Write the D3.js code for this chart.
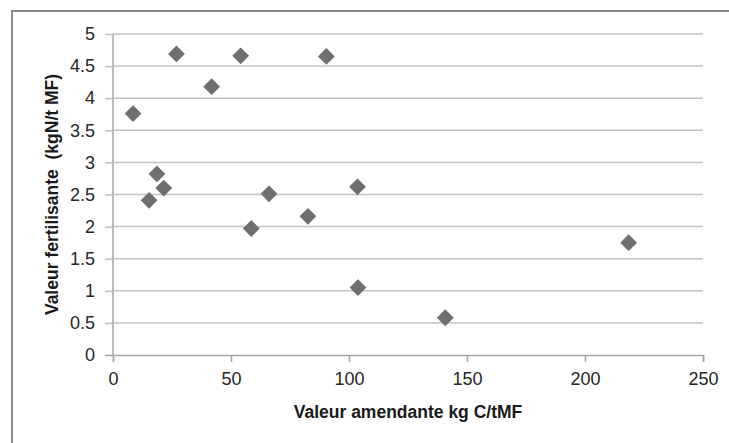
<!DOCTYPE html>
<html>
<head>
<meta charset="utf-8">
<script src="https://cdn.jsdelivr.net/npm/d3@7"></script>
<style>
  body { margin: 0; background: #fff; }
  .tick text { font-family: "Liberation Sans", Arial, sans-serif; font-size: 18px; fill: #262626; }
  .axis-text { font-family: "Liberation Sans", Arial, sans-serif; font-size: 17.5px; font-weight: bold; fill: #1a1a1a; }
</style>
</head>
<body>
<div id="scatter"></div>
<script>
// data
var amendante = [8.5, 15.3, 18.6, 21.5, 26.9, 41.8, 54.1, 58.6, 66.1, 82.6, 90.4, 103.6, 103.8, 140.8, 218.5];
var fertilisante = [3.76, 2.41, 2.82, 2.60, 4.69, 4.18, 4.66, 1.97, 2.51, 2.16, 4.65, 2.62, 1.05, 0.58, 1.75];
var xTicks = [0, 50, 100, 150, 200, 250];
var yTicks = [0, 0.5, 1, 1.5, 2, 2.5, 3, 3.5, 4, 4.5, 5];

var svgWidth = 729;
var svgHeight = 443;
var margin = {top: 34, right: 26, bottom: 88, left: 113};
var width = svgWidth - margin.left - margin.right;
var height = svgHeight - margin.top - margin.bottom;

var root = d3.select('#scatter')
  .append('svg')
  .attr('width', svgWidth)
  .attr('height', svgHeight);

// outer chart frame (only left and top are in view)
root.append('rect')
  .attr('x', 12)
  .attr('y', 11)
  .attr('width', 740)
  .attr('height', 460)
  .attr('fill', 'none')
  .attr('stroke', '#8a8a8a')
  .attr('stroke-width', 2);

var chart = root.append('g')
  .attr('transform', 'translate(' + margin.left + ',' + margin.top + ')');

var xScale = d3.scaleLinear().domain([0, 250]).range([0, width]);
var yScale = d3.scaleLinear().domain([0, 5]).range([height, 0]);

// gridlines
chart.append('g')
  .selectAll('line')
  .data(yTicks.filter(function(d) { return d > 0; }))
  .enter()
  .append('line')
  .attr('x1', 0)
  .attr('x2', width)
  .attr('y1', function(d) { return yScale(d); })
  .attr('y2', function(d) { return yScale(d); })
  .attr('stroke', '#c3c3c3')
  .attr('stroke-width', 1.5);

var leftAxis = d3.axisLeft(yScale).tickValues(yTicks).tickSize(8).tickPadding(10)
  .tickFormat(function(d) { return d; });
var bottomAxis = d3.axisBottom(xScale).tickValues(xTicks).tickSize(7).tickPadding(10)
  .tickFormat(function(d) { return d; });

var gx = chart.append('g')
  .attr('transform', 'translate(0,' + height + ')')
  .call(bottomAxis);
var gy = chart.append('g')
  .call(leftAxis);

[gx, gy].forEach(function(g) {
  g.select('.domain').attr('stroke', '#a6a6a6').attr('stroke-width', 1.5);
  g.selectAll('.tick line').attr('stroke', '#a6a6a6').attr('stroke-width', 1.5);
});
gy.select('.domain').attr('d', 'M0,' + height + 'V0');
gy.selectAll('.tick line').attr('stroke', function(d) { return d === 0 ? '#a6a6a6' : '#c3c3c3'; });

// points
var diamond = d3.symbol().type(d3.symbolDiamond2).size(180);
chart.append('g')
  .selectAll('path')
  .data(amendante)
  .enter()
  .append('path')
  .attr('d', diamond)
  .attr('transform', function(d, i) {
    return 'translate(' + xScale(d) + ',' + yScale(fertilisante[i]) + ')';
  })
  .attr('fill', '#6f6f6f');

// axis titles
chart.append('text')
  .attr('class', 'axis-text')
  .attr('text-anchor', 'middle')
  .attr('x', width / 2)
  .attr('y', height + 63)
  .text('Valeur amendante kg C/tMF');

chart.append('text')
  .attr('class', 'axis-text')
  .attr('text-anchor', 'middle')
  .attr('transform', 'translate(' + (52 - margin.left) + ',' + (height / 2) + ') rotate(-90)')
  .attr('dy', '0.35em')
  .style('white-space', 'pre')
  .text('Valeur fertilisante  (kgN/t MF)');
</script>
</body>
</html>
